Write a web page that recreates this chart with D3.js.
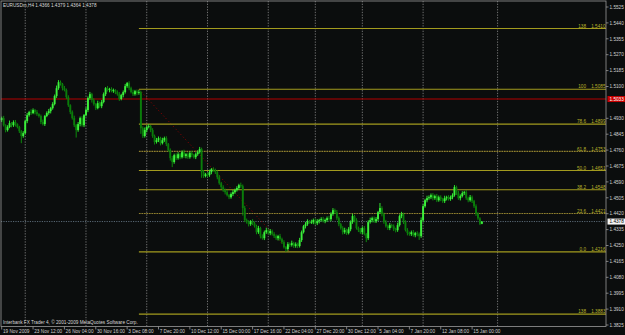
<!DOCTYPE html>
<html lang="en">
<head>
<meta charset="UTF-8" />
<title>EURUSDm,H4</title>
<script src="https://cdn.jsdelivr.net/npm/d3@7"></script>
<style>
  body { margin: 0; background: #0b0d0d; }
  svg { display: block; font-family: "Liberation Sans", Arial, sans-serif; }
</style>
</head>
<body>
<svg id="chart" width="625" height="335"></svg>
<script>
// H4 closes in pips (price * 10000); open of each bar = previous close
const firstOpen = 14920;
const closes = [
  14931, 14893, 14867, 14883, 14904, 14893, 14910, 14899, 14883, 14861,
  14835, 14851, 14915, 14947, 14963, 14958, 14974, 14963, 14952, 14942,
  14910, 14899, 14942, 14958, 14968, 14984, 15006, 15049, 15091, 15123,
  15113, 15091, 15081, 15043, 15000, 14963, 14931, 14893, 14867, 14899,
  14931, 14893, 14947, 14974, 15038, 15059, 15027, 15006, 14984, 15011,
  14995, 15017, 15059, 15091, 15081, 15086, 15075, 15081, 15070, 15059,
  15033, 15054, 15070, 15102, 15118, 15091, 15070, 15059, 15075, 15065,
  15070, 14877, 14835, 14867, 14883, 14888, 14867, 14835, 14803, 14813,
  14824, 14797, 14813, 14824, 14792, 14760, 14717, 14696, 14733, 14717,
  14738, 14722, 14749, 14728, 14738, 14722, 14744, 14733, 14722, 14738,
  14749, 14765, 14642, 14621, 14631, 14626, 14642, 14658, 14653, 14642,
  14615, 14583, 14562, 14546, 14535, 14519, 14508, 14525, 14535, 14546,
  14557, 14573, 14567, 14450, 14386, 14375, 14364, 14380, 14369, 14353,
  14321, 14343, 14300, 14289, 14321, 14332, 14316, 14327, 14311, 14300,
  14289, 14300, 14284, 14268, 14241, 14231, 14257, 14252, 14263, 14247,
  14257, 14247, 14279, 14321, 14353, 14364, 14380, 14375, 14375, 14386,
  14369, 14380, 14386, 14391, 14380, 14386, 14396, 14391, 14418, 14439,
  14428, 14396, 14364, 14343, 14321, 14332, 14316, 14337, 14375, 14407,
  14386, 14343, 14332, 14321, 14343, 14311, 14289, 14375, 14386, 14396,
  14380, 14391, 14428, 14450, 14418, 14375, 14353, 14343, 14359, 14353,
  14337, 14332, 14359, 14407, 14418, 14375, 14332, 14316, 14311, 14321,
  14305, 14316, 14311, 14300, 14386, 14460, 14492, 14503, 14508, 14519,
  14503, 14514, 14492, 14508, 14498, 14487, 14503, 14508, 14498, 14508,
  14519, 14562, 14530, 14503, 14514, 14530, 14535, 14503, 14492, 14508,
  14487, 14460, 14420, 14395, 14366, 14378
];
// wick lengths in pips above / below the body
const wickUp = [
  8, 12, 5, 10, 14, 6, 9, 11, 4, 7,   6, 10, 8, 12, 7, 15, 9, 6, 11, 5,
  8, 13, 6, 9, 12, 7, 10, 8, 14, 11,  9, 6, 12, 8, 10, 5, 9, 13, 7, 11,
  8, 10, 6, 14, 9, 12, 7, 10, 5, 13,  8, 11, 9, 6, 12, 7, 10, 8, 5, 9,
  11, 7, 9, 12, 6, 10, 8, 13, 7, 9,   12, 8, 10, 14, 9, 11, 6, 10, 8, 12,
  9, 7, 13, 8, 10, 6, 9, 12, 8, 10,   11, 7, 9, 13, 6, 10, 8, 12, 7, 9,
  10, 12, 8, 11, 7, 9, 13, 6, 10, 8,  9, 12, 7, 10, 8, 11, 6, 9, 12, 8,
  10, 7, 13, 9, 12, 8, 10, 6, 11, 9,  8, 12, 7, 10, 9, 13, 6, 11, 8, 10,
  9, 7, 12, 8, 10, 6, 11, 9, 13, 7,   10, 8, 12, 9, 7, 11, 10, 6, 13, 8,
  9, 11, 7, 10, 12, 8, 9, 13, 10, 11, 8, 12, 9, 7, 10, 13, 8, 11, 9, 12,
  7, 10, 8, 12, 9, 11, 6, 10, 13, 8,  9, 11, 7, 27, 10, 8, 12, 9, 11, 7,
  10, 8, 13, 9, 12, 7, 10, 11, 8, 9,  12, 7, 10, 9, 14, 11, 8, 13, 10, 9,
  11, 8, 12, 9, 10, 7, 13, 8, 11, 9,  10, 11, 8, 12, 9, 10, 7, 11, 8, 12,
  9, 7, 10, 8, 6, 1
];
const wickDn = [
  10, 7, 12, 8, 6, 11, 9, 13, 7, 10,  38, 9, 7, 11, 8, 10, 6, 12, 9, 8,
  11, 7, 10, 6, 9, 12, 8, 7, 10, 9,   8, 12, 7, 10, 9, 11, 8, 10, 40, 9,
  12, 8, 10, 7, 11, 9, 13, 8, 10, 6,  9, 11, 7, 10, 8, 12, 6, 9, 11, 8,
  10, 7, 12, 8, 9, 11, 7, 10, 8, 12,  9, 30, 10, 8, 12, 7, 11, 9, 13, 8,
  10, 12, 7, 9, 11, 8, 13, 27, 9, 10, 8, 11, 7, 10, 12, 9, 8, 11, 7, 10,
  9, 8, 30, 10, 7, 12, 9, 11, 8, 10,  11, 8, 10, 9, 12, 7, 10, 8, 11, 9,
  8, 10, 9, 40, 11, 8, 12, 9, 10, 7,  11, 9, 12, 8, 10, 9, 7, 11, 8, 10,
  9, 12, 8, 10, 7, 15, 9, 11, 8, 10,  9, 11, 8, 10, 7, 12, 9, 8, 10, 11,
  8, 10, 12, 9, 7, 11, 10, 8, 12, 9,  10, 9, 11, 8, 12, 9, 10, 7, 11, 9,
  12, 8, 10, 9, 11, 7, 21, 10, 8, 12, 9, 10, 11, 8, 12, 9, 7, 10, 11, 8,
  10, 12, 9, 8, 11, 10, 7, 12, 9, 10, 8, 11, 12, 20, 9, 10, 8, 11, 9, 10,
  12, 9, 10, 8, 11, 9, 10, 12, 8, 9,  11, 8, 10, 9, 12, 7, 10, 9, 11, 8,
  10, 9, 12, 8, 7, 2
];

const timeLabels = ["19 Nov 2009", "23 Nov 12:00", "26 Nov 04:00", "30 Nov 16:00", "3 Dec 08:00",
  "7 Dec 20:00", "10 Dec 12:00", "15 Dec 00:00", "17 Dec 16:00", "22 Dec 04:00", "27 Dec 20:00",
  "30 Dec 12:00", "5 Jan 04:00", "7 Jan 20:00", "12 Jan 08:00", "15 Jan 00:00"];
const labelStep = 16;                       // bars between time labels
const weekStarts = [12, 43, 74, 105, 136, 160, 184, 215, 253];   // bar index of grid lines

const priceTicks = ["1.5525", "1.5440", "1.5355", "1.5270", "1.5185", "1.5100", "1.4930",
  "1.4845", "1.4760", "1.4675", "1.4590", "1.4505", "1.4420", "1.4335", "1.4250", "1.4165",
  "1.4080", "1.3995", "1.3910", "1.3825"];

const fibNames  = ["138", "100", "78.6", "61.8", "50.0", "38.2", "23.6", "0.0", "138"];
const fibPrices = [1.5410, 1.5085, 1.4899, 1.4753, 1.4651, 1.4548, 1.4421, 1.4216, 1.3883];
const fibDotted = [false, false, false, true, false, false, true, false, false];
const fibFrom = 70, fibTo = 147;            // bars of the 100 and 0 anchors

const redLine = 1.5033;
const bid = 1.4378;
const header = "EURUSDm,H4  1.4366 1.4379 1.4364 1.4378";
const footer = "Interbank FX Trader 4, \u00a9 2001-2009 MetaQuotes Software Corp.";

const L = 1, R = 606, T = 1, B = 326.5;
const svg = d3.select("#chart");
svg.append("rect").attr("width", 625).attr("height", 335).attr("fill", "#0b0d0d");

const x = d3.scaleLinear().domain([0, 245]).range([1.7, 481.9]);
const y = d3.scaleLinear().domain([1.3825, 1.5525]).range([325, 7]);

// weekly grid
svg.append("g").selectAll("line").data(weekStarts).join("line")
  .attr("x1", d => x(d)).attr("x2", d => x(d))
  .attr("y1", T).attr("y2", B)
  .attr("stroke", "#8c8c8c").attr("stroke-width", 0.8)
  .attr("stroke-dasharray", "1.3,1.4");

// red horizontal line
svg.append("line").attr("x1", L).attr("x2", R)
  .attr("y1", y(redLine)).attr("y2", y(redLine))
  .attr("stroke", "#b40000").attr("stroke-width", 1.1);

// bid line
svg.append("line").attr("x1", L).attr("x2", R)
  .attr("y1", y(bid)).attr("y2", y(bid))
  .attr("stroke", "#6f8090").attr("stroke-width", 0.8)
  .attr("stroke-dasharray", "1.2,1.2");

// fibonacci
const fib = svg.append("g");
fib.append("line")
  .attr("x1", x(fibFrom)).attr("y1", y(fibPrices[1]))
  .attr("x2", x(fibTo)).attr("y2", y(fibPrices[7]))
  .attr("stroke", "#9a0000").attr("stroke-width", 1)
  .attr("stroke-dasharray", "1,2.6");
fibPrices.forEach((p, i) => {
  fib.append("line")
    .attr("x1", x(fibFrom)).attr("x2", R)
    .attr("y1", y(p)).attr("y2", y(p))
    .attr("stroke", fibDotted[i] ? "#8e7f2e" : "#a39b1e")
    .attr("stroke-width", 1.1)
    .attr("stroke-dasharray", fibDotted[i] ? "1.8,0.7" : null);
  fib.append("text").attr("x", 586).attr("y", y(p) - 0.9)
    .attr("text-anchor", "end").attr("font-size", 4.7).attr("fill", "#b8b02a")
    .text(fibNames[i]);
  fib.append("text").attr("x", 605.5).attr("y", y(p) - 0.9)
    .attr("text-anchor", "end").attr("font-size", 4.7).attr("fill", "#b8b02a")
    .text(p.toFixed(4));
});

// candles
const bars = closes.map((c, i) => {
  const o = i ? closes[i - 1] : firstOpen;
  return {
    i, o: o / 1e4, c: c / 1e4,
    h: (Math.max(o, c) + wickUp[i]) / 1e4,
    l: (Math.min(o, c) - wickDn[i]) / 1e4
  };
});
const candle = svg.append("g").selectAll("g").data(bars).join("g");
candle.append("line")
  .attr("x1", d => x(d.i)).attr("x2", d => x(d.i))
  .attr("y1", d => y(d.h)).attr("y2", d => y(d.l))
  .attr("stroke", d => d.c >= d.o ? "#2ee62e" : "#0d8a0d")
  .attr("stroke-width", 1);
candle.append("rect")
  .attr("x", d => x(d.i) - 0.95).attr("width", 1.9)
  .attr("y", d => y(Math.max(d.o, d.c)))
  .attr("height", d => Math.max(0.8, Math.abs(y(d.o) - y(d.c))))
  .attr("fill", d => d.c >= d.o ? "#3cf03c" : "#0a7d0a");

// frame
svg.append("rect").attr("x", L).attr("y", T).attr("width", R - L).attr("height", B - T)
  .attr("fill", "none").attr("stroke", "#9a9a9a").attr("stroke-width", 0.8);

// price axis
const pa = svg.append("g").attr("font-size", 4.7).attr("fill", "#cfcfcf");
priceTicks.forEach(t => {
  const py = y(+t);
  pa.append("line").attr("x1", R).attr("x2", R + 2.5).attr("y1", py).attr("y2", py)
    .attr("stroke", "#9a9a9a").attr("stroke-width", 0.8);
  pa.append("text").attr("x", 609.5).attr("y", py + 1.7).text(t);
});
pa.append("rect").attr("x", 607.5).attr("y", y(redLine) - 3).attr("width", 18).attr("height", 6)
  .attr("fill", "#c80000");
pa.append("text").attr("x", 609.5).attr("y", y(redLine) + 1.7).attr("fill", "#ffffff")
  .text(redLine.toFixed(4));
pa.append("rect").attr("x", 607.5).attr("y", y(bid) - 3).attr("width", 18).attr("height", 6)
  .attr("fill", "#f4f4f4");
pa.append("text").attr("x", 609.5).attr("y", y(bid) + 1.7).attr("fill", "#000000")
  .text(bid.toFixed(4));

// time axis
const ta = svg.append("g").attr("font-size", 4.7).attr("fill", "#cfcfcf");
timeLabels.forEach((t, k) => {
  const tx = x(k * labelStep);
  ta.append("line").attr("x1", tx).attr("x2", tx).attr("y1", B).attr("y2", B + 3)
    .attr("stroke", "#9a9a9a").attr("stroke-width", 0.8);
  ta.append("text").attr("x", tx + 1.2).attr("y", 333.3).text(t);
});

svg.append("text").attr("x", 3).attr("y", 6.8).attr("font-size", 4.7).attr("fill", "#d8d8d8")
  .text(header);
svg.append("text").attr("x", 3).attr("y", 324).attr("font-size", 4.7).attr("fill", "#d8d8d8")
  .text(footer);
</script>
</body>
</html>
